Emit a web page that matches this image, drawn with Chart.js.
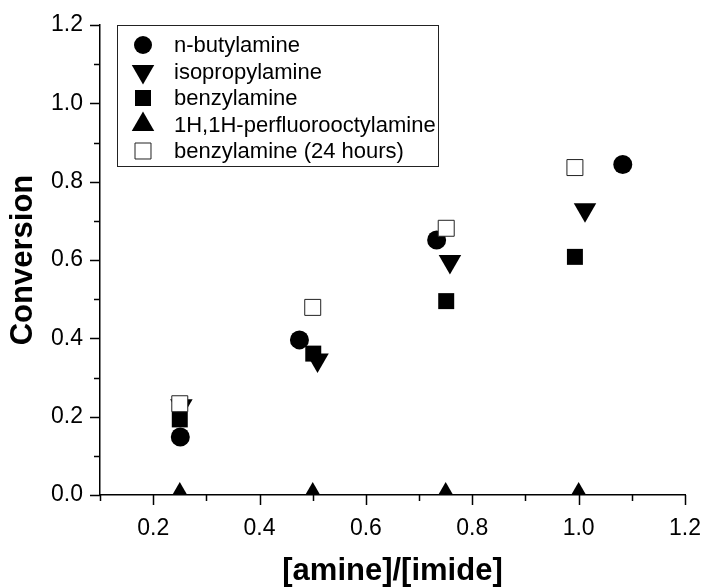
<!DOCTYPE html>
<html>
<head>
<meta charset="utf-8">
<script src="https://cdn.jsdelivr.net/npm/chart.js@4/dist/chart.umd.min.js"></script>
<style>
  body { margin: 0; background: #fff; }
  #wrap { width: 704px; height: 587px; }
</style>
</head>
<body>
<div id="wrap"><canvas id="myChart" width="704" height="587"></canvas></div>
<script>
const ctx = document.getElementById("myChart");

const labels = [
  "n-butylamine",
  "isopropylamine",
  "benzylamine",
  "1H,1H-perfluorooctylamine",
  "benzylamine (24 hours)",
];

const xButyl = [0.251, 0.475, 0.733, 1.083];
const yButyl = [0.148, 0.396, 0.651, 0.844];

const xIso = [0.253, 0.509, 0.758, 1.012];
const yIso = [0.228, 0.345, 0.596, 0.728];

const xBenzyl = [0.25, 0.501, 0.751, 0.993];
const yBenzyl = [0.193, 0.361, 0.495, 0.608];

const xFluoro = [0.25, 0.5, 0.75, 1.0];
const yFluoro = [0, 0, 0, 0];

const xBenzyl24 = [0.25, 0.5, 0.751, 0.993];
const yBenzyl24 = [0.233, 0.479, 0.681, 0.836];

const xMin = 0.1, xMax = 1.2;
const yMin = 0, yMax = 1.2;

const toPoints = (xs, ys) => xs.map((x, i) => ({ x: x, y: ys[i] }));

// marker looks: circle, down triangle, filled square, up triangle, open square
const markers = [
  { pointStyle: "circle", radius: 9.5, rotation: 0, fill: "#000", stroke: "#000", bw: 0 },
  { pointStyle: "triangle", radius: 13, rotation: 180, fill: "#000", stroke: "#000", bw: 0 },
  { pointStyle: "rect", radius: 11.3, rotation: 0, fill: "#000", stroke: "#000", bw: 0 },
  { pointStyle: "triangle", radius: 13, rotation: 0, fill: "#000", stroke: "#000", bw: 0 },
  { pointStyle: "rect", radius: 11.3, rotation: 0, fill: "#fff", stroke: "#222", bw: 1 },
];

const series = [
  toPoints(xButyl, yButyl),
  toPoints(xIso, yIso),
  toPoints(xBenzyl, yBenzyl),
  toPoints(xFluoro, yFluoro),
  toPoints(xBenzyl24, yBenzyl24),
];

const datasets = series.map((pts, i) => ({
  label: labels[i],
  data: pts,
  pointStyle: markers[i].pointStyle,
  pointRadius: markers[i].radius,
  pointHoverRadius: markers[i].radius,
  pointRotation: markers[i].rotation,
  backgroundColor: markers[i].fill,
  borderColor: markers[i].stroke,
  pointBorderWidth: markers[i].bw,
  clip: 0,
  // open squares end up on top
  order: i === 4 ? 0 : 5 - i,
}));

const isMajor = (v) => Math.round(v * 10) % 2 === 0;

// major / minor tick marks drawn outward
const tickMarks = {
  id: "tickMarks",
  afterDraw(chart) {
    const c = chart.ctx;
    const xs = chart.scales.x;
    const ys = chart.scales.y;
    c.save();
    c.strokeStyle = "#000";
    c.lineWidth = 1.5;
    c.beginPath();
    xs.ticks.forEach((t) => {
      const px = Math.round(xs.getPixelForValue(t.value)) + 0.5;
      const len = isMajor(t.value) ? 10 : 6;
      c.moveTo(px, xs.top);
      c.lineTo(px, xs.top + len);
    });
    ys.ticks.forEach((t) => {
      const py = Math.round(ys.getPixelForValue(t.value)) + 0.5;
      const len = isMajor(t.value) ? 10 : 6;
      c.moveTo(ys.right, py);
      c.lineTo(ys.right - len, py);
    });
    c.stroke();
    c.restore();
  },
};

// boxed legend inside the plot
const boxLegend = {
  id: "boxLegend",
  afterDraw(chart) {
    const c = chart.ctx;
    const area = chart.chartArea;
    const left = area.left + 17;
    const top = area.top;
    const w = 321;
    const h = 141;
    c.save();
    c.fillStyle = "#fff";
    c.fillRect(left, top, w, h);
    c.strokeStyle = "#222";
    c.lineWidth = 1;
    c.strokeRect(left + 0.5, top + 0.5, w, h);
    chart.data.datasets.forEach((ds, i) => {
      const m = markers[i];
      const cx = left + 26;
      const cy = top + 20 + i * 26.5;
      c.fillStyle = m.fill;
      c.strokeStyle = m.stroke;
      c.lineWidth = m.bw;
      c.beginPath();
      if (m.pointStyle === "circle") {
        c.arc(cx, cy, 9, 0, Math.PI * 2);
      } else if (m.pointStyle === "rect") {
        const s = m.radius * Math.SQRT1_2;
        c.rect(cx - s, cy - s, 2 * s, 2 * s);
      } else {
        const r = m.radius;
        const d = m.rotation === 180 ? -1 : 1;
        c.moveTo(cx, cy - d * r);
        c.lineTo(cx + r * 0.866, cy + d * r / 2);
        c.lineTo(cx - r * 0.866, cy + d * r / 2);
        c.closePath();
      }
      c.fill();
      if (m.bw > 0) c.stroke();
      c.fillStyle = "#000";
      c.font = "22px 'Liberation Sans', Arial, sans-serif";
      c.textBaseline = "middle";
      c.textAlign = "left";
      c.fillText(ds.label, left + 57, cy + 1);
    });
    c.restore();
  },
};

const myChart = new Chart(ctx, {
  type: "scatter",
  data: { datasets: datasets },
  plugins: [tickMarks, boxLegend],
  options: {
    responsive: false,
    animation: false,
    events: [],
    layout: { padding: { top: 25, right: 19, left: 0, bottom: 0 } },
    plugins: {
      legend: { display: false },
      tooltip: { enabled: false },
    },
    scales: {
      x: {
        type: "linear",
        min: xMin,
        max: xMax,
        afterFit: (s) => {
          s.height = 92;
          s.paddingLeft = 0;
          s.paddingRight = 0;
        },
        border: { display: true, color: "#000", width: 1.5 },
        grid: { drawOnChartArea: false, drawTicks: false },
        ticks: {
          stepSize: 0.1,
          autoSkip: false,
          maxRotation: 0,
          padding: 20,
          color: "#000",
          font: { family: "'Liberation Sans', Arial, sans-serif", size: 23 },
          callback: (v) => (isMajor(v) ? v.toFixed(1) : ""),
        },
        title: {
          display: true,
          text: "[amine]/[imide]",
          color: "#000",
          font: { family: "'Liberation Sans', Arial, sans-serif", size: 31, weight: "bold", lineHeight: 1 },
          padding: { top: 0, bottom: 0 },
        },
      },
      y: {
        type: "linear",
        min: yMin,
        max: yMax,
        afterFit: (s) => {
          s.width = 100;
          s.paddingTop = 0;
          s.paddingBottom = 0;
        },
        border: { display: true, color: "#000", width: 1.5 },
        grid: { drawOnChartArea: false, drawTicks: false },
        ticks: {
          stepSize: 0.1,
          autoSkip: false,
          padding: 17,
          color: "#000",
          font: { family: "'Liberation Sans', Arial, sans-serif", size: 23 },
          callback: (v) => (isMajor(v) ? v.toFixed(1) : ""),
        },
        title: {
          display: true,
          text: "Conversion",
          color: "#000",
          font: { family: "'Liberation Sans', Arial, sans-serif", size: 31, weight: "bold" },
          padding: { top: 5, bottom: 0 },
        },
      },
    },
  },
});
</script>
</body>
</html>
